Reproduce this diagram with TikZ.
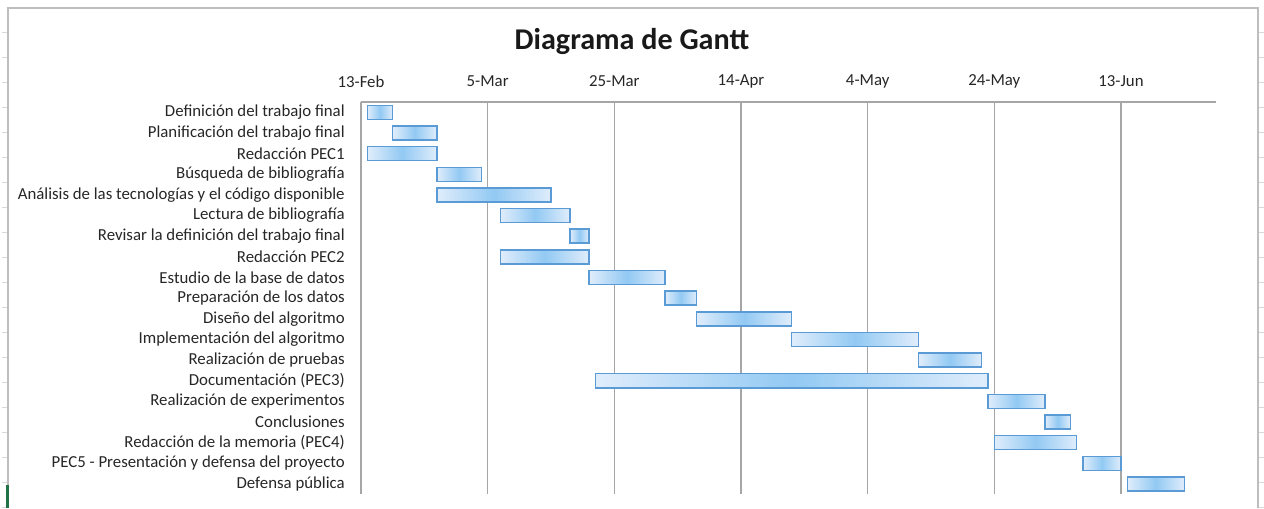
\documentclass[tikz,border=0pt]{standalone}
\usepackage{fontspec}
\setmainfont{Carlito}
\usetikzlibrary{positioning}
\definecolor{barline}{RGB}{91,155,213}
\definecolor{barlight}{RGB}{224,237,251}
\definecolor{barmid}{RGB}{146,201,243}
\definecolor{gridgray}{RGB}{166,166,166}
\definecolor{framegray}{RGB}{190,190,190}
\definecolor{selgreen}{RGB}{33,115,70}

\begin{document}
\begin{tikzpicture}[x=0.75pt,y=-0.75pt,
	bar/.style={draw=barline,line width=1.1pt,left color=barlight,right color=barlight,middle color=barmid},
	gridline/.style={draw=gridgray,line width=0.9pt},
	tasklabel/.style={anchor=east,inner sep=0pt,text=black!85,font=\fontsize{12.6}{14}\selectfont},
	datelabel/.style={inner sep=0pt,text=black!85,font=\fontsize{12.6}{14}\selectfont}]
	\useasboundingbox (0,0) rectangle (1264,508);
	% sheet frame
	\foreach \yy in {32,57,...,508} {
		\draw[framegray!60] (2,\yy) -- (8,\yy);
		\draw[framegray!60] (1258,\yy) -- (1264,\yy);
	}
	\draw[framegray,line width=1.5pt] (8,508) -- (8,8) -- (1258,8) -- (1258,508);
	\draw[selgreen,line width=2pt] (7.5,485) -- (7.5,508);
	\node[font=\bfseries\fontsize{22.6}{26}\selectfont,text=black!90] (title) at (632,41) {Diagrama de Gantt};
	% chart: x in days from 13-Feb, y in rows
	\begin{scope}[xshift=270.75pt,yshift=-68.74pt,x=4.75pt,y=-15.4875pt]
		\foreach \d/\lab in {0/13-Feb,20/5-Mar,40/25-Mar,60/14-Apr,80/4-May,100/24-May,120/13-Jun} {
			\draw[gridline] (\d,0.5) -- (\d,19.5);
			\node[datelabel] (date\d) at (\d,-0.5) {\lab};
		}
		\draw[gridline] (0,0.5) -- (135,0.5);
		\foreach \s/\e/\lab [count=\k] in {
			1/5/Definición del trabajo final,
			5/12/Planificación del trabajo final,
			1/12/Redacción PEC1,
			12/19/Búsqueda de bibliografía,
			12/30/Análisis de las tecnologías y el código disponible,
			22/33/Lectura de bibliografía,
			33/36/Revisar la definición del trabajo final,
			22/36/Redacción PEC2,
			36/48/Estudio de la base de datos,
			48/53/Preparación de los datos,
			53/68/Diseño del algoritmo,
			68/88/Implementación del algoritmo,
			88/98/Realización de pruebas,
			37/99/Documentación (PEC3),
			99/108/Realización de experimentos,
			108/112/Conclusiones,
			100/113/Redacción de la memoria (PEC4),
			114/120/PEC5 - Presentación y defensa del proyecto,
			121/130/Defensa pública} {
			\node[tasklabel] (task\k) at (-2.53,\k) {\lab};
			\draw[bar] (\s,\k-0.34) rectangle (\e,\k+0.34);
		}
	\end{scope}
\end{tikzpicture}
\end{document}
